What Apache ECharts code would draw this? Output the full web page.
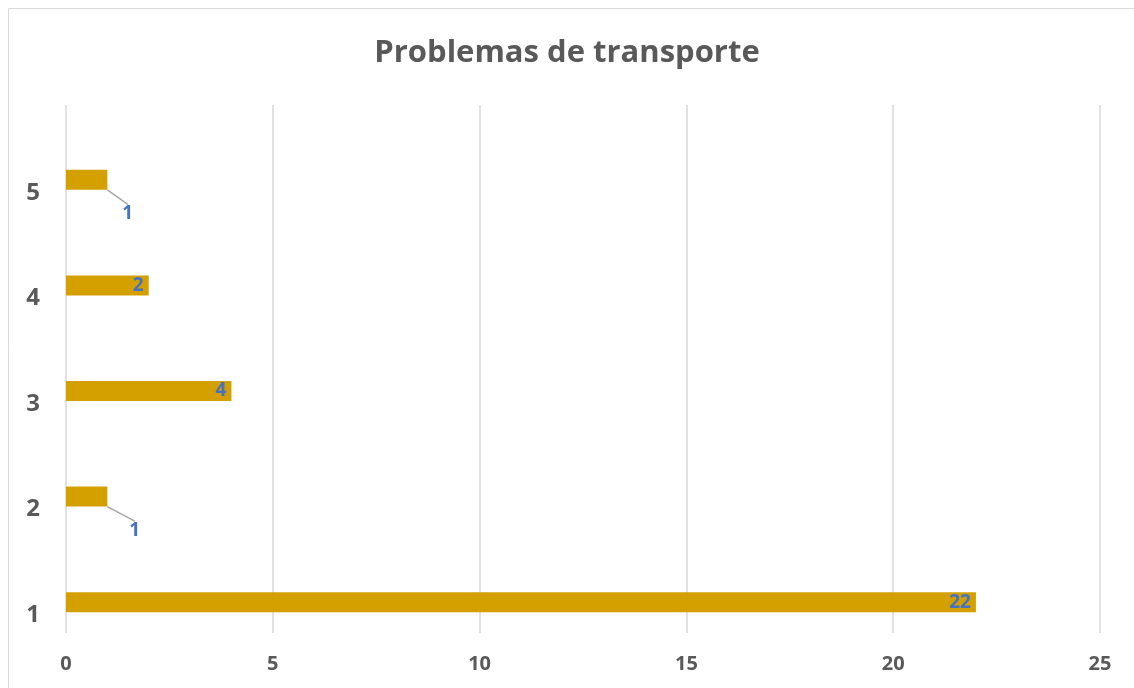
<!DOCTYPE html>
<html><head><meta charset="utf-8">
<script src="https://cdn.jsdelivr.net/npm/echarts@6/dist/echarts.min.js"></script>
<style>html,body{margin:0;padding:0;background:#fff}#c{width:1134px;height:688px}</style>
</head><body><div id="c"></div>
<script>
const categories = ['1','2','3','4','5'];
const values = [22, 1, 4, 2, 1];
const xTicks = [0, 5, 10, 15, 20, 25];
const title = 'Problemas de transporte';

const chart = echarts.init(document.getElementById('c'));
const font = 'Open Sans, Noto Sans, sans-serif';
const labelBase = {show: true, color: '#4472C4', fontWeight: 'bold', fontSize: 19, fontFamily: font};
const data = values.map((v, i) => {
  if (v <= 1) {
    return {value: v, label: Object.assign({}, labelBase, {position: 'right', distance: 4}),
      labelLine: {show: true, lineStyle: {color: '#a6a6a6', width: 1.5}}};
  }
  return {value: v, label: Object.assign({}, labelBase, {position: 'insideRight', offset: [-6, 0]})};
});
chart.setOption({
  animation: false,
  title: {text: title, left: 'center', top: 33,
    textStyle: {fontFamily: font, fontSize: 31, fontWeight: 'bold', color: '#595959'}},
  graphic: [{type: 'rect', shape: {x: 8.5, y: 8.5, width: 1140, height: 700},
    style: {fill: 'none', stroke: '#d9d9d9', lineWidth: 1}}],
  grid: {left: 66, right: 34, top: 105, bottom: 55, containLabel: false},
  xAxis: {type: 'value', min: xTicks[0], max: xTicks[xTicks.length - 1], interval: 5,
    axisLine: {show: false}, axisTick: {show: false},
    splitLine: {lineStyle: {color: '#d9d9d9', width: 1.5}},
    axisLabel: {color: '#595959', fontWeight: 'bold', fontSize: 20, fontFamily: font, margin: 21}},
  yAxis: {type: 'category', data: categories,
    axisLine: {show: false}, axisTick: {show: false},
    axisLabel: {color: '#595959', fontWeight: 'bold', fontSize: 24, fontFamily: font, margin: 26,
      verticalAlign: 'top', lineHeight: 70}},
  series: [
    {type: 'bar', data: values.map(() => null), barWidth: 20, barGap: '120%', silent: true},
    {type: 'bar', data: data, barWidth: 20, barGap: '120%', itemStyle: {color: '#D4A000'},
      labelLayout: function (p) {
        if (values[p.dataIndex] <= 1) {
          return {dx: p.dataIndex === 1 ? 18 : 11, dy: 34, hideOverlap: false};
        }
        return {};
      }}
  ]
});
</script></body></html>
